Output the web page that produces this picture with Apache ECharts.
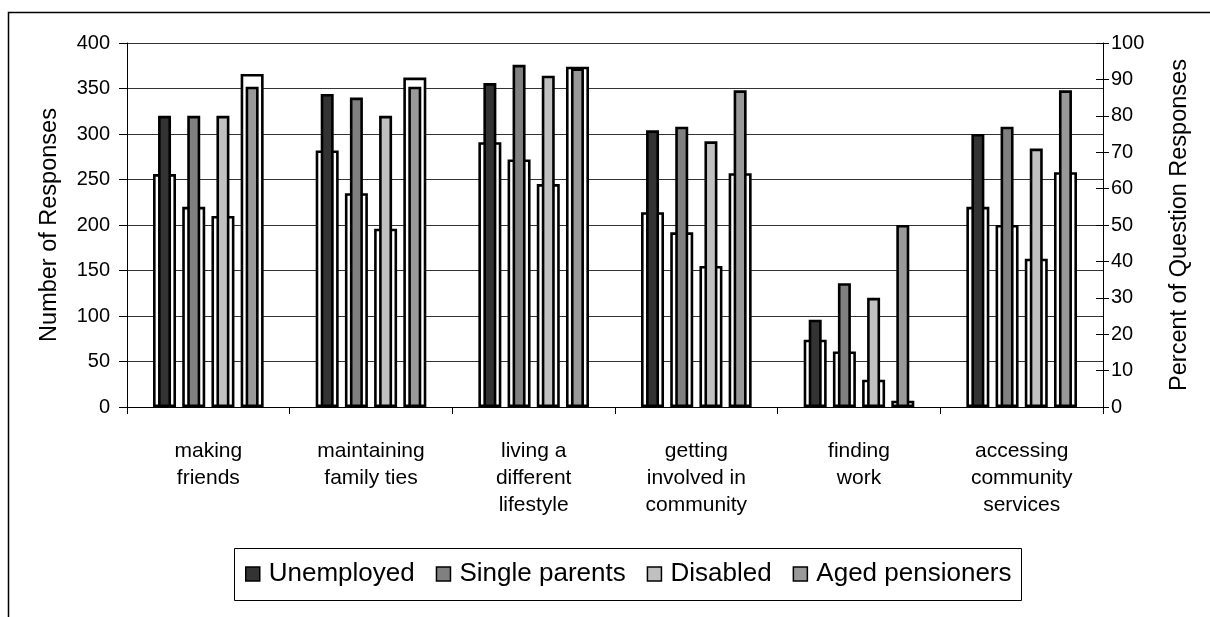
<!DOCTYPE html>
<html>
<head>
<meta charset="utf-8">
<script src="https://cdn.jsdelivr.net/npm/echarts@6/dist/echarts.min.js"></script>
<style>
html,body{margin:0;padding:0;background:#fff;}
#chart{width:1210px;height:617px;}
</style>
</head>
<body>
<div id="chart"></div>
<script>
// ---- data ----
var categories = ["making\nfriends", "maintaining\nfamily ties", "living a\ndifferent\nlifestyle", "getting\ninvolved in\ncommunity", "finding\nwork", "accessing\ncommunity\nservices"];
var groupNames = ["Unemployed", "Single parents", "Disabled", "Aged pensioners"];
// Number of responses (left axis, white bars)
var numUnemployed     = [256, 282, 291, 214, 74, 220];
var numSingleParents  = [220, 235, 272, 192, 61, 200];
var numDisabled       = [210, 196, 245, 155, 30, 163];
var numAgedPensioners = [366, 362, 374, 257, 7, 258];
// Percent of question responses (right axis, shaded bars)
var pctUnemployed     = [80, 86, 89, 76, 24, 75];
var pctSingleParents  = [80, 85, 94, 77, 34, 77];
var pctDisabled       = [80, 80, 91, 73, 30, 71];
var pctAgedPensioners = [88, 88, 93, 87, 50, 87];
var leftTicks = {min: 0, max: 400, interval: 50};
var rightTicks = {min: 0, max: 100, interval: 10};

var colors = ["#333333", "#808080", "#c0c0c0", "#999999"];
var FONT = "'Liberation Sans', Arial, sans-serif";
var numData = [numUnemployed, numSingleParents, numDisabled, numAgedPensioners];
var pctData = [pctUnemployed, pctSingleParents, pctDisabled, pctAgedPensioners];

var series = [];
numData.forEach(function (d, i) {
  series.push({
    name: groupNames[i] + " (number)",
    type: "bar",
    xAxisIndex: 0,
    yAxisIndex: 0,
    data: d,
    barWidth: 23,
    barGap: "27%",
    itemStyle: {color: "#ffffff", borderColor: "#000", borderWidth: 2.6},
    emphasis: {disabled: true},
    animation: false,
    z: 2
  });
});
pctData.forEach(function (d, i) {
  series.push({
    name: groupNames[i],
    type: "bar",
    xAxisIndex: 1,
    yAxisIndex: 1,
    data: d,
    barWidth: 13,
    barGap: "124.6%",
    itemStyle: {color: colors[i], borderColor: "#000", borderWidth: 2.6},
    emphasis: {disabled: true},
    animation: false,
    z: 3
  });
});

var chart = echarts.init(document.getElementById("chart"), null, {renderer: "canvas"});
chart.setOption({
  animation: false,
  backgroundColor: "#fff",
  textStyle: {fontFamily: FONT, color: "#000"},
  grid: {left: 127, right: 107, top: 43, bottom: 210, containLabel: false},
  legend: {
    data: groupNames,
    left: 245,
    top: 561,
    padding: 0,
    icon: "rect",
    itemWidth: 14,
    itemHeight: 14,
    itemGap: 21,
    itemStyle: {borderColor: "#000", borderWidth: 1.5},
    textStyle: {fontFamily: FONT, fontSize: 26, color: "#000", lineHeight: 26, padding: [0, 0, 0, 4]},
    selectedMode: false
  },
  xAxis: [
    {
      type: "category",
      data: categories,
      position: "bottom",
      boundaryGap: true,
      axisLine: {show: true, lineStyle: {color: "#000", width: 1}},
      axisTick: {show: true, length: 7, lineStyle: {color: "#000"}},
      axisLabel: {fontFamily: FONT, fontSize: 21, lineHeight: 27, color: "#000", margin: 31, interval: 0},
      splitLine: {show: false}
    },
    {
      type: "category",
      data: categories,
      show: false,
      boundaryGap: true
    }
  ],
  yAxis: [
    {
      type: "value",
      position: "left",
      min: leftTicks.min, max: leftTicks.max, interval: leftTicks.interval,
      name: "Number of Responses",
      nameLocation: "middle",
      nameRotate: 90,
      nameGap: 65,
      nameTextStyle: {fontFamily: FONT, fontSize: 23.5, color: "#000"},
      axisLine: {show: true, lineStyle: {color: "#000", width: 1}},
      axisTick: {show: true, length: 8, lineStyle: {color: "#000"}},
      axisLabel: {fontFamily: FONT, fontSize: 20, color: "#000", margin: 17},
      splitLine: {show: true, lineStyle: {color: "#333", width: 1}}
    },
    {
      type: "value",
      position: "right",
      min: rightTicks.min, max: rightTicks.max, interval: rightTicks.interval,
      name: "Percent of Question Responses",
      nameLocation: "middle",
      nameRotate: 90,
      nameGap: 65,
      nameTextStyle: {fontFamily: FONT, fontSize: 23.5, color: "#000"},
      axisLine: {show: true, lineStyle: {color: "#000", width: 1}},
      axisTick: {show: true, length: 6, lineStyle: {color: "#000"}},
      axisLabel: {fontFamily: FONT, fontSize: 20, color: "#000", margin: 8},
      splitLine: {show: false}
    },
    {
      type: "value",
      position: "right",
      min: rightTicks.min, max: rightTicks.max, interval: rightTicks.interval,
      axisLine: {show: false},
      axisTick: {show: true, inside: true, length: 7, lineStyle: {color: "#000"}},
      axisLabel: {show: false},
      splitLine: {show: false}
    }
  ],
  graphic: [
    {
      type: "rect",
      silent: true,
      shape: {x: 8.5, y: 12.5, width: 1400, height: 800},
      style: {fill: "none", stroke: "#000", lineWidth: 1.5},
      z: 100
    },
    {
      type: "rect",
      silent: true,
      shape: {x: 234.5, y: 548.5, width: 787, height: 52},
      style: {fill: "none", stroke: "#000", lineWidth: 1},
      z: 100
    }
  ],
  series: series
});
</script>
</body>
</html>
